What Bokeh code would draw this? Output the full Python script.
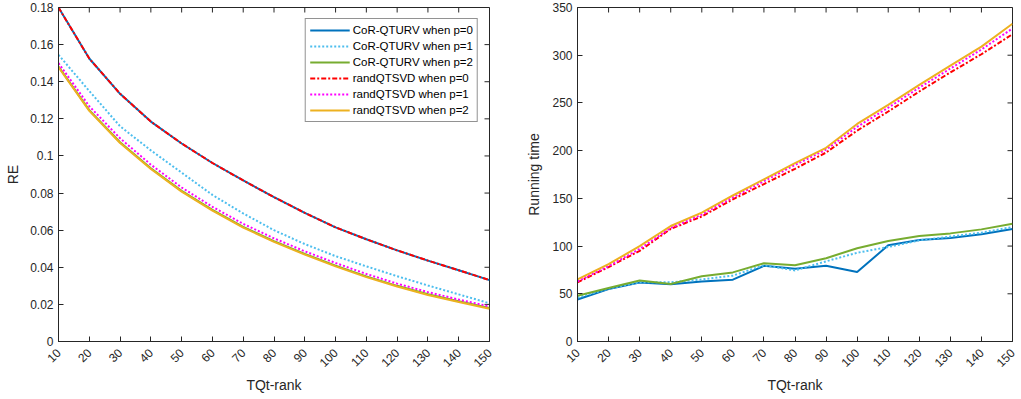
from bokeh.plotting import figure
from bokeh.layouts import row
from bokeh.models import (Legend, LegendItem, FixedTicker, Range1d,
                          CustomJSTickFormatter)
from bokeh.embed import file_html
from bokeh.resources import INLINE
import math

# ---------------- data ----------------
ranks = [10, 20, 30, 40, 50, 60, 70, 80, 90, 100, 110, 120, 130, 140, 150]

re_cor_p0 = [0.1800, 0.1525, 0.1335, 0.1185, 0.1067, 0.0962, 0.0868, 0.0778, 0.0693, 0.0615, 0.0551, 0.0491, 0.0436, 0.0384, 0.0331]
re_cor_p1 = [0.1545, 0.1350, 0.1160, 0.1030, 0.0910, 0.0790, 0.0690, 0.0600, 0.0525, 0.0460, 0.0405, 0.0352, 0.0302, 0.0254, 0.0206]
re_cor_p2 = [0.1482, 0.1247, 0.1074, 0.0934, 0.0812, 0.0709, 0.0618, 0.0541, 0.0472, 0.0409, 0.0351, 0.0300, 0.0255, 0.0217, 0.0180]
re_rand_p0 = [0.1800, 0.1525, 0.1335, 0.1185, 0.1067, 0.0962, 0.0868, 0.0778, 0.0693, 0.0615, 0.0551, 0.0491, 0.0436, 0.0384, 0.0331]
re_rand_p1 = [0.1500, 0.1268, 0.1095, 0.0953, 0.0830, 0.0726, 0.0634, 0.0556, 0.0486, 0.0423, 0.0364, 0.0312, 0.0266, 0.0226, 0.0189]
re_rand_p2 = [0.1478, 0.1243, 0.1070, 0.0930, 0.0808, 0.0705, 0.0614, 0.0537, 0.0468, 0.0405, 0.0347, 0.0296, 0.0251, 0.0213, 0.0176]

time_cor_p0 = [44, 55, 61.7, 60, 63, 64.8, 79.3, 76.2, 79.3, 72.8, 100.8, 106.4, 108.5, 112.3, 118]
time_cor_p1 = [46, 55.5, 62, 62, 65, 69, 80, 74.5, 84, 93, 99, 106, 110, 114, 120]
time_cor_p2 = [48, 56, 64, 60.3, 68.3, 72.4, 82, 80, 87.3, 97.7, 105.3, 110.5, 113.3, 117.5, 123.4]
time_rand_p0 = [62, 78, 95, 118, 131, 149, 165, 181, 198, 221, 241, 262, 282, 301, 322]
time_rand_p1 = [63, 79, 97, 119, 133, 151, 168, 185, 201, 225, 245, 266, 286, 306, 328]
time_rand_p2 = [65, 81, 100, 121, 135, 153, 170, 187, 203, 228, 248, 269, 289, 309, 333]

series_names = ["CoR-QTURV when p=0", "CoR-QTURV when p=1", "CoR-QTURV when p=2",
                "randQTSVD when p=0", "randQTSVD when p=1", "randQTSVD when p=2"]

re_ticks = [0, 0.02, 0.04, 0.06, 0.08, 0.1, 0.12, 0.14, 0.16, 0.18]
time_ticks = [0, 50, 100, 150, 200, 250, 300, 350]

# ---------------- styles ----------------
FONT = "Liberation Sans"
AX = "#262626"
styles = [
    dict(line_color="#0072BD", line_width=2, line_dash="solid"),
    dict(line_color="#4DBEEE", line_width=2, line_dash="2 2"),
    dict(line_color="#77AC30", line_width=2, line_dash="solid"),
    dict(line_color="#FF0000", line_width=2, line_dash="5 2 2 2"),
    dict(line_color="#FF00FF", line_width=2, line_dash="2 2"),
    dict(line_color="#EDB120", line_width=2, line_dash="solid"),
]

fmt = CustomJSTickFormatter(code="return (Math.round(tick*100)/100).toString();")
H = 398


def style_axis(ax):
    ax.axis_line_color = AX
    ax.axis_line_width = 1
    ax.major_tick_line_color = AX
    ax.major_tick_in = 5
    ax.major_tick_out = 0
    ax.minor_tick_line_color = None
    ax.major_label_text_font = FONT
    ax.major_label_text_color = AX
    ax.major_label_text_font_size = "12px"
    ax.axis_label_text_font = FONT
    ax.axis_label_text_color = AX
    ax.axis_label_text_font_size = "14px"
    ax.axis_label_text_font_style = "normal"


def make_fig(width, yr, yticks, ylabel, mbl, mbr, ylab_standoff):
    p = figure(width=width, height=H, x_range=Range1d(10, 150), y_range=yr,
               output_backend="svg", toolbar_location=None,
               min_border_left=mbl, min_border_right=mbr,
               min_border_top=7, min_border_bottom=57)
    p.xgrid.visible = False
    p.ygrid.visible = False
    p.outline_line_color = AX
    p.background_fill_color = "white"
    p.border_fill_color = "white"
    xa = p.xaxis[0]
    ya = p.yaxis[0]
    xa.ticker = FixedTicker(ticks=ranks)
    ya.ticker = FixedTicker(ticks=yticks)
    xa.major_label_orientation = math.pi / 4
    xa.axis_label = "TQt-rank"
    ya.axis_label = ylabel
    style_axis(xa)
    style_axis(ya)
    xa.major_label_standoff = 9
    xa.axis_label_standoff = 3
    ya.axis_label_standoff = ylab_standoff

    ymin, ymax = yr.start, yr.end
    # inward tick marks on the top and right edges of the box
    p.ray(x=ranks, y=[ymax] * len(ranks), length=5, length_units="screen",
          angle=-math.pi / 2, line_color=AX, line_width=1)
    p.ray(x=[150] * len(yticks), y=yticks, length=5, length_units="screen",
          angle=math.pi, line_color=AX, line_width=1)
    return p


# ---------------- left: RE ----------------
p1 = make_fig(520, Range1d(0, 0.18), re_ticks, "RE", 58, 31, 6)
p1.yaxis[0].formatter = fmt
left_data = [re_cor_p0, re_cor_p1, re_cor_p2, re_rand_p0, re_rand_p1, re_rand_p2]
items = []
for name, ys, st in zip(series_names, left_data, styles):
    r = p1.line(ranks, ys, **st)
    items.append(LegendItem(label=name, renderers=[r]))

legend = Legend(items=items, location="top_right",
                label_text_font=FONT, label_text_font_size="11.5px", label_text_color="#000000",
                glyph_width=40, glyph_height=14, label_height=14, spacing=2,
                padding=4, margin=11, label_standoff=3,
                border_line_color=AX, border_line_width=1,
                background_fill_color="white", background_fill_alpha=1.0)
p1.add_layout(legend)

# ---------------- right: running time ----------------
p2 = make_fig(500, Range1d(0, 350), time_ticks, "Running time", 57, 8, 7)
right_data = [time_cor_p0, time_cor_p1, time_cor_p2, time_rand_p0, time_rand_p1, time_rand_p2]
for ys, st in zip(right_data, styles):
    p2.line(ranks, ys, **st)

layout = row(p1, p2)
open("out.html", "w").write(file_html(layout, INLINE))
